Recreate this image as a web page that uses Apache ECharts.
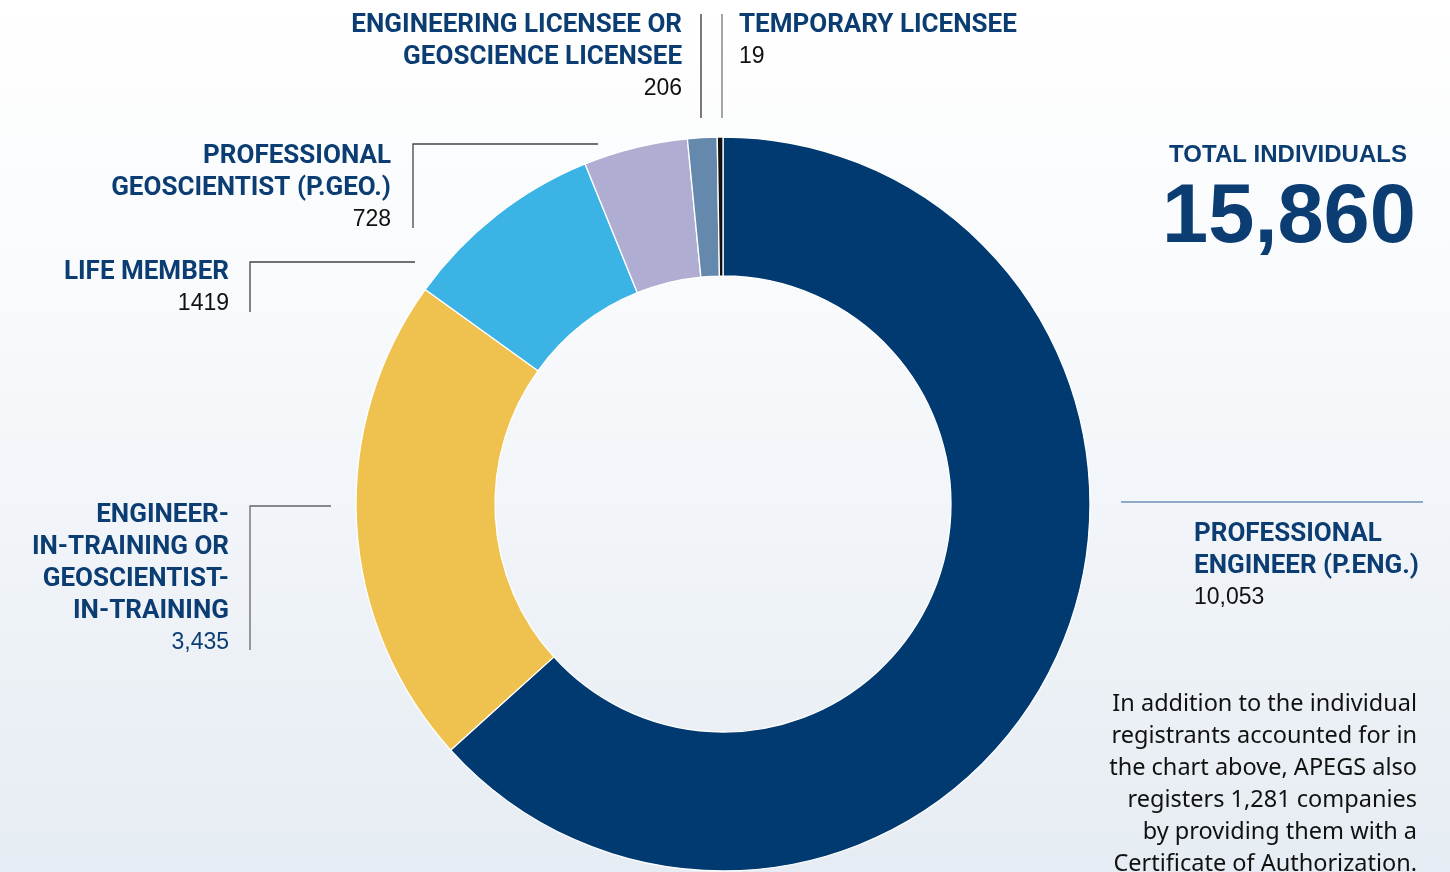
<!DOCTYPE html>
<html>
<head>
<meta charset="utf-8">
<script src="https://cdn.jsdelivr.net/npm/echarts@6/dist/echarts.min.js"></script>
<style>
  html, body { margin: 0; padding: 0; }
  #chart { width: 1450px; height: 872px; }
</style>
</head>
<body>
<div id="chart"></div>
<script>
// registrant categories, clockwise from the top
var categories = [
  'PROFESSIONAL\nENGINEER (P.ENG.)',
  'ENGINEER-\nIN-TRAINING OR\nGEOSCIENTIST-\nIN-TRAINING',
  'LIFE MEMBER',
  'PROFESSIONAL\nGEOSCIENTIST (P.GEO.)',
  'ENGINEERING LICENSEE OR\nGEOSCIENCE LICENSEE',
  'TEMPORARY LICENSEE'
];
var values = [10053, 3435, 1419, 728, 206, 19];
var valueLabels = ['10,053', '3,435', '1419', '728', '206', '19'];
var colors = ['#003a70', '#efc24f', '#3bb3e4', '#afaed2', '#6589ad', '#111111'];
var totalLabel = 'TOTAL INDIVIDUALS';
var note = 'In addition to the individual\nregistrants accounted for in\nthe chart above, APEGS also\nregisters 1,281 companies\nby providing them with a\nCertificate of Authorization.';

var navy = '#0b3d73';
var condensed = '"Liberation Sans Narrow", "Arial Narrow", Roboto, sans-serif';
var plain = '"Liberation Sans", Arial, sans-serif';
var wide = '"Noto Sans", "Open Sans", sans-serif';

var total = values.reduce(function (a, b) { return a + b; }, 0);

// label block: name (bold navy) + value (regular), anchored at x/y
function labelBlock(i, x, y, align, valueColor) {
  var nameLines = categories[i].split('\n').length;
  return {
    type: 'group',
    children: [
      {
        type: 'text', x: x, y: y,
        style: {
          text: categories[i], fill: navy, align: align, verticalAlign: 'top',
          font: 'bold 26px ' + condensed, lineHeight: 32
        }
      },
      {
        type: 'text', x: x, y: y + nameLines * 32,
        style: {
          text: valueLabels[i], fill: valueColor || '#111', align: align, verticalAlign: 'top',
          font: '23px ' + plain, lineHeight: 32
        }
      }
    ]
  };
}

function line(points, color, w) {
  return {
    type: 'polyline',
    shape: { points: points },
    style: { stroke: color || '#444', lineWidth: w || 1.3, fill: null },
    silent: true
  };
}

var chart = echarts.init(document.getElementById('chart'));
chart.setOption({
  animation: false,
  backgroundColor: {
    type: 'linear', x: 0, y: 0, x2: 0, y2: 1,
    colorStops: [
      { offset: 0, color: '#ffffff' },
      { offset: 0.35, color: '#f8fafc' },
      { offset: 1, color: '#e6ecf3' }
    ]
  },
  series: [{
    type: 'pie',
    center: [723, 504],
    radius: [228, 367],
    startAngle: 90,
    clockwise: true,
    minAngle: 0.9,
    silent: true,
    label: { show: false },
    labelLine: { show: false },
    itemStyle: { borderColor: '#ffffff', borderWidth: 1.3 },
    data: values.map(function (v, i) {
      return { name: categories[i], value: v, itemStyle: { color: colors[i] } };
    })
  }],
  graphic: [
    // connector lines
    line([[701, 14], [701, 118]], '#333', 1.3),
    line([[722, 14], [722, 118]], '#777', 1.3),
    line([[598, 144], [413, 144], [413, 228]]),
    line([[415, 262], [250, 262], [250, 312]]),
    line([[331, 506], [250, 506], [250, 650]], '#666'),
    line([[1121, 502], [1423, 502]], '#6e8fb5', 1.5),
    // labels
    labelBlock(4, 682, 9, 'right'),
    labelBlock(5, 739, 9, 'left'),
    labelBlock(3, 391, 140, 'right'),
    labelBlock(2, 229, 256, 'right'),
    labelBlock(1, 229, 499, 'right', navy),
    labelBlock(0, 1194, 518, 'left'),
    // total
    {
      type: 'text', x: 1288, y: 143,
      style: { text: totalLabel, fill: navy, align: 'center', verticalAlign: 'top', font: 'bold 24px ' + plain }
    },
    {
      type: 'text', x: 1289, y: 178,
      style: { text: total.toLocaleString('en-US'), fill: navy, align: 'center', verticalAlign: 'top', font: 'bold 83px ' + plain }
    },
    // note
    {
      type: 'text', x: 1417, y: 688,
      style: { text: note, fill: '#111', align: 'right', verticalAlign: 'top', font: '23.5px ' + wide, lineHeight: 32 }
    }
  ]
});
</script>
</body>
</html>
